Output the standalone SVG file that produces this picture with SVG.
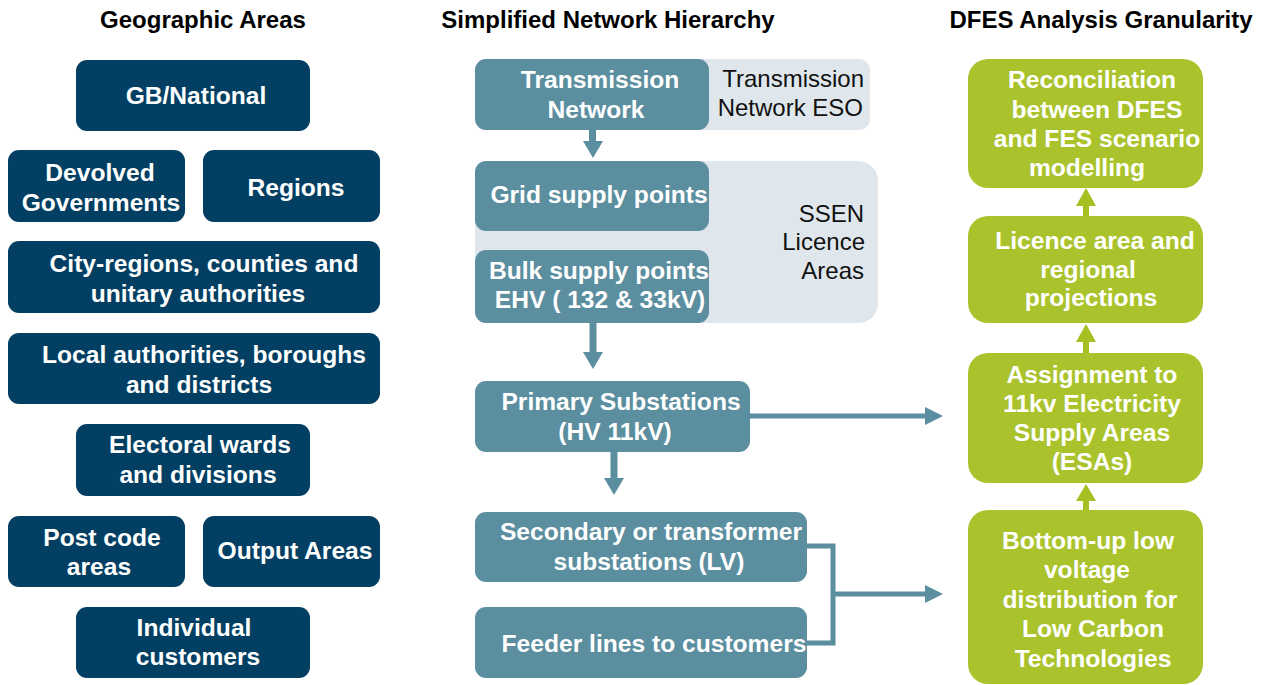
<svg xmlns="http://www.w3.org/2000/svg" width="1275" height="685" viewBox="0 0 1275 685">
  <defs>
    <style>
      .hdr { font-family: "Liberation Sans", Arial, sans-serif; font-weight: bold; font-size: 24px; fill: #000; text-anchor: middle; }
      .geo rect { fill: #023f63; }
      .net rect.box { fill: #5b8e9f; }
      .band { fill: #dfe7ec; }
      .dfes rect { fill: #aac32c; }
      .lbl { font-family: "Liberation Sans", Arial, sans-serif; font-weight: bold; font-size: 24.6px; fill: #fff; text-anchor: middle; }
      .note { font-family: "Liberation Sans", Arial, sans-serif; font-size: 24px; fill: #111; text-anchor: end; }
      .wire { fill: none; stroke: #5b8e9f; stroke-width: 7; }
      .wire-thin { fill: none; stroke: #5b8e9f; stroke-width: 5; }
      .head { fill: #5b8e9f; }
      .up { fill: none; stroke: #a6bf22; stroke-width: 6; }
      .uphead { fill: #a6bf22; }
    </style>
  </defs>
  <rect width="1275" height="685" fill="#fff"/>

  <!-- column headings -->
  <text class="hdr" x="203" y="28">Geographic Areas</text>
  <text class="hdr" x="608" y="28">Simplified Network Hierarchy</text>
  <text class="hdr" x="1101" y="28">DFES Analysis Granularity</text>

  <!-- geographic areas -->
  <g id="gb-national" class="geo">
    <rect x="76" y="60" width="234" height="71" rx="11"/>
    <text class="lbl" x="196" y="104">GB/National</text>
  </g>
  <g id="devolved-governments" class="geo">
    <rect x="8" y="150" width="177" height="72" rx="11"/>
    <text class="lbl" x="100" y="181">Devolved</text>
    <text class="lbl" x="101" y="211">Governments</text>
  </g>
  <g id="regions" class="geo">
    <rect x="203" y="150" width="177" height="72" rx="11"/>
    <text class="lbl" x="296" y="196">Regions</text>
  </g>
  <g id="city-regions" class="geo">
    <rect x="8" y="241" width="372" height="72" rx="11"/>
    <text class="lbl" x="204" y="272">City-regions, counties and</text>
    <text class="lbl" x="198" y="302">unitary authorities</text>
  </g>
  <g id="local-authorities" class="geo">
    <rect x="8" y="333" width="372" height="71" rx="11"/>
    <text class="lbl" x="204" y="363">Local authorities, boroughs</text>
    <text class="lbl" x="199" y="393">and districts</text>
  </g>
  <g id="electoral-wards" class="geo">
    <rect x="76" y="424" width="234" height="72" rx="11"/>
    <text class="lbl" x="200" y="453">Electoral wards</text>
    <text class="lbl" x="198" y="483">and divisions</text>
  </g>
  <g id="post-code-areas" class="geo">
    <rect x="8" y="516" width="177" height="71" rx="11"/>
    <text class="lbl" x="102" y="546">Post code</text>
    <text class="lbl" x="99" y="575">areas</text>
  </g>
  <g id="output-areas" class="geo">
    <rect x="203" y="516" width="177" height="71" rx="11"/>
    <text class="lbl" x="295" y="559">Output Areas</text>
  </g>
  <g id="individual-customers" class="geo">
    <rect x="76" y="607" width="234" height="71" rx="11"/>
    <text class="lbl" x="194" y="636">Individual</text>
    <text class="lbl" x="198" y="665">customers</text>
  </g>

  <!-- network hierarchy -->
  <g id="transmission-network" class="net">
    <rect class="band" x="600" y="59" width="270" height="71" rx="11"/>
    <rect class="box" x="475" y="59" width="234" height="71" rx="11"/>
    <text class="lbl" x="600" y="88">Transmission</text>
    <text class="lbl" x="596" y="118">Network</text>
    <text class="note" x="864" y="87">Transmission</text>
    <text class="note" x="863" y="116">Network ESO</text>
  </g>
  <g id="ssen-licence-areas" class="net">
    <rect class="band" x="475" y="161" width="403" height="162" rx="20"/>
    <text class="note" x="864" y="222">SSEN</text>
    <text class="note" x="865" y="250">Licence</text>
    <text class="note" x="864" y="279">Areas</text>
  </g>
  <g id="grid-supply-points" class="net">
    <rect class="box" x="475" y="161" width="234" height="70" rx="11"/>
    <text class="lbl" x="599" y="203">Grid supply points</text>
  </g>
  <g id="bulk-supply-points" class="net">
    <rect class="box" x="475" y="250" width="234" height="73" rx="11"/>
    <text class="lbl" x="599" y="279">Bulk supply points</text>
    <text class="lbl" x="600" y="308">EHV ( 132 &amp; 33kV)</text>
  </g>
  <g id="primary-substations" class="net">
    <rect class="box" x="475" y="381" width="275" height="71" rx="11"/>
    <text class="lbl" x="621" y="410">Primary Substations</text>
    <text class="lbl" x="615" y="440">(HV 11kV)</text>
  </g>
  <g id="secondary-substations" class="net">
    <rect class="box" x="475" y="512" width="332" height="70" rx="11"/>
    <text class="lbl" x="651" y="540">Secondary or transformer</text>
    <text class="lbl" x="649" y="570">substations (LV)</text>
  </g>
  <g id="feeder-lines" class="net">
    <rect class="box" x="475" y="607" width="332" height="71" rx="11"/>
    <text class="lbl" x="654" y="652">Feeder lines to customers</text>
  </g>

  <!-- DFES analysis granularity -->
  <g id="reconciliation" class="dfes">
    <rect x="968" y="59" width="235" height="129" rx="20"/>
    <text class="lbl" x="1092" y="88">Reconciliation</text>
    <text class="lbl" x="1097" y="118">between DFES</text>
    <text class="lbl" x="1097" y="147">and FES scenario</text>
    <text class="lbl" x="1087" y="176">modelling</text>
  </g>
  <g id="licence-area-projections" class="dfes">
    <rect x="968" y="216" width="235" height="107" rx="20"/>
    <text class="lbl" x="1095" y="249">Licence area and</text>
    <text class="lbl" x="1088" y="278">regional</text>
    <text class="lbl" x="1091" y="306">projections</text>
  </g>
  <g id="esa-assignment" class="dfes">
    <rect x="968" y="353" width="235" height="130" rx="20"/>
    <text class="lbl" x="1092" y="383">Assignment to</text>
    <text class="lbl" x="1092" y="412">11kv Electricity</text>
    <text class="lbl" x="1092" y="441">Supply Areas</text>
    <text class="lbl" x="1092" y="470">(ESAs)</text>
  </g>
  <g id="bottom-up-lv" class="dfes">
    <rect x="968" y="510" width="235" height="174" rx="20"/>
    <text class="lbl" x="1088" y="549">Bottom-up low</text>
    <text class="lbl" x="1087" y="578">voltage</text>
    <text class="lbl" x="1090" y="608">distribution for</text>
    <text class="lbl" x="1093" y="637">Low Carbon</text>
    <text class="lbl" x="1093" y="667">Technologies</text>
  </g>

  <!-- connectors -->
  <g id="connectors">
    <!-- transmission to grid supply points -->
    <path class="wire" d="M592.5 130 V143"/>
    <polygon class="head" points="583,141 603,141 593,158"/>
    <!-- bulk supply points to primary -->
    <path class="wire" d="M593 323 V354"/>
    <polygon class="head" points="583,352 603,352 593,369"/>
    <!-- primary to secondary -->
    <path class="wire" d="M614 452 V480"/>
    <polygon class="head" points="604,478 624,478 614,495"/>
    <!-- primary to ESA assignment -->
    <path class="wire-thin" d="M750 416 H927"/>
    <polygon class="head" points="925,407 943,416 925,425"/>
    <!-- secondary and feeder bracket to bottom-up LV -->
    <path class="wire-thin" d="M807 546 H833 V643 H807"/>
    <path class="wire-thin" d="M833 594 H927"/>
    <polygon class="head" points="925,585 943,594 925,603"/>
    <!-- upward steps in DFES granularity -->
    <path class="up" d="M1086 510 V498"/>
    <polygon class="uphead" points="1076,501 1096,501 1086,484"/>
    <path class="up" d="M1086 353 V340"/>
    <polygon class="uphead" points="1076,342 1096,342 1086,324"/>
    <path class="up" d="M1086 216 V204"/>
    <polygon class="uphead" points="1076,206 1096,206 1086,188"/>
  </g>
</svg>
